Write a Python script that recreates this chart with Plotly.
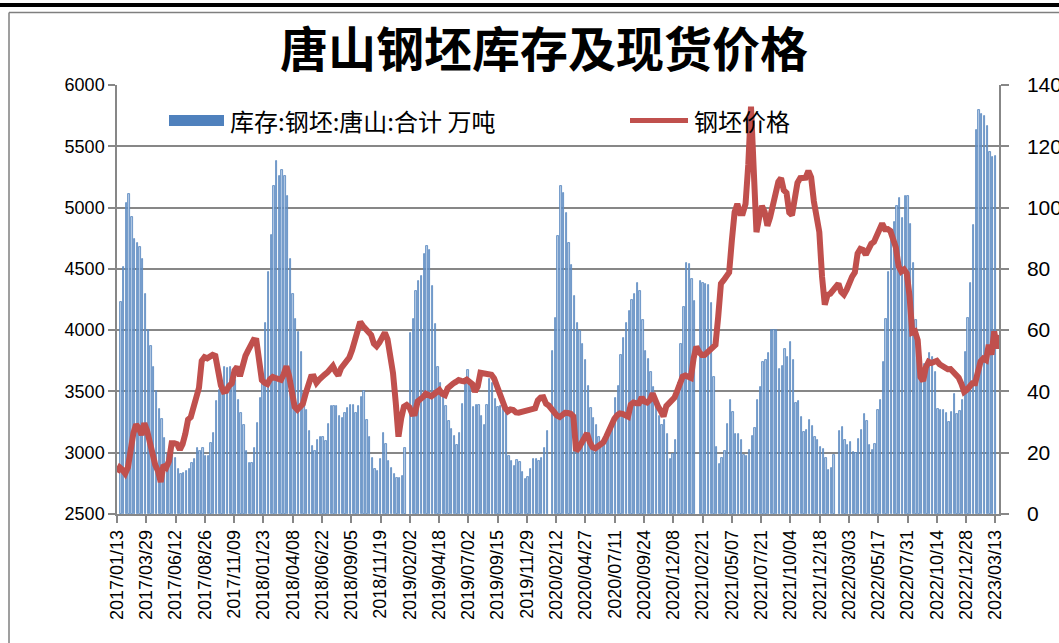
import plotly.graph_objects as go
import pandas as pd

# ---------------- data ----------------
# 唐山钢坯库存 (万吨), weekly (None = no data that week)
inventory = [
    69.2, 80.5, 101.6, 104.5, 96.8, 89.7, 88.3, 87.0, 83.2, 71.7, 60.0, 54.8, 48.1, 40.0, 34.3, 31.0,
    24.9, 19.5, 17.9, 20.5, 18.4, 14.6, 13.0, 13.5, 14.1, 14.6, 16.8, 17.8, 21.6, 20.5, 21.6, 18.9,
    18.9, 23.2, 26.5, 36.8, 40.5, 42.7, 48.1, 47.6, 48.1, 45.9, 43.8, 37.3, 33.0, 29.2, 20.5, 16.8,
    16.8, 21.6, 29.7, 37.8,
    44.0, 62.2, 78.9, 91.0, 107.0, 115.1, 110.3, 112.4, 110.3, 103.8, 83.2, 71.7, 63.5, 59.5, 53.0, 39.5,
    34.1, 27.0, 22.2, 20.5, 24.3, 25.2, 25.2, 23.8, 29.5, 35.4, 35.4, 35.1, 31.9, 31.4, 33.0, 34.6,
    35.7, 35.7, 33.0, 35.1, 38.2, 40.0, 30.8, 25.2, 18.4, 14.6, 14.1, 17.8, 26.5, 22.7, 17.3, 15.1,
    13.0, 11.9, 11.9, 12.4,
    21.6, None, 59.1, 63.7, 72.8, 76.2, 77.8, 84.9, 87.4, 86.0, 74.3, 61.9, 47.9, 42.7, 38.4, 35.1,
    30.3, 27.6, 25.4, 22.4, 26.3, 36.0, 44.0, 47.0, 41.8, 34.9, 35.6, 35.7, 31.9, 29.1, 35.7, 44.0,
    42.7, 37.5, 34.9, 35.4, 34.3, 34.0, 19.0, 17.3, 15.7, 17.5, 17.0, 13.7, 11.4, 12.2, 14.6, 17.8,
    18.1, 17.3, 18.4, 21.6, 27.0,
    None, 53.3, 64.1, 90.8, 107.0, 104.9, 98.2, 88.6, 81.4, 71.1, 62.4, 59.8, 55.5, 50.1, 41.8, 34.6,
    31.4, 28.9, 25.2, 23.3, 24.3, 25.6, 26.3, 27.6, 37.8, 41.8, 51.9, 57.6, 62.2, 66.3, 69.7, 71.9,
    75.4, 72.8, 63.2, 53.3, 50.5, 46.5, 41.4, 37.5, 31.9, 29.2, 30.8, 26.0, 17.8, 19.5, 24.1, 42.7,
    55.5, 67.6, 81.8, 81.6, 76.8,
    69.6, None, 76.0, 75.5, 74.9, 74.7, 68.9, 44.7, 22.0, 16.4, 18.3, 20.5, 29.4, 37.1, 33.3, 26.0,
    26.0, 24.0, 19.3, 18.8, 20.9, 25.3, 28.1, 37.3, 41.4, 49.6, 50.4, 52.6, 60.0, 60.0, 60.0, 47.4,
    48.2, 54.0, 51.3, 56.2, 50.4, 36.2, 36.9, 31.6, 26.7, 27.5, 30.8, 28.6, 25.1, 24.0, 22.0, 21.3,
    18.2, 14.4, 15.1, 19.4, None, 27.0, 28.4, 24.0, 22.4,
    23.5, 20.2, 19.9, 24.5, 27.3, 32.7, 30.5, 22.4, 21.0, 23.0, 34.1, 37.1, 49.6, 63.8, 79.1, 92.2,
    95.2, 100.4, 103.1, 96.5, 103.8, 103.8, 94.7, 82.0, 63.3, 54.3, 45.0, 48.9, 48.0, 52.4, 51.3, 46.4,
    34.4, 33.8, 33.8, 33.0, 30.0, 33.3, 39.3, 32.7, 33.6, 37.1, 52.9, 64.1, 75.5, 94.4, 125.2, 131.8,
    130.4, 129.8, 126.5, 118.0, 116.5, 116.9,
]
inventory_start = "2017-01-23"

# 钢坯价格 (元/吨), weekly
price = [
    2840, 2880, 2860, 2830, 2880, 3025, 3160, 3230, 3200, 3145, 3240, 3180, 3075, 2970, 2900, 2850,
    2760, 2900, 2880, 2930, 3077, 3077, 3070, 3025, 3070, 3155, 3270, 3290, 3380, 3460, 3530, 3750,
    3780, 3770, 3784, 3798, 3790, 3660, 3550, 3500, 3505, 3545, 3566, 3670, 3700, 3625, 3730, 3790,
    3835, 3880, 3920, 3915, 3720, 3593, 3570, 3560, 3600, 3618, 3610, 3600, 3595, 3640, 3705, 3625,
    3500, 3375, 3352, 3370, 3398, 3480, 3563, 3620, 3622, 3570, 3597, 3625, 3638, 3655, 3690, 3707,
    3660, 3630, 3690, 3723, 3736, 3777, 3835, 3915, 4022, 4068, 4034, 4008, 3996, 3960, 3890, 3868,
    3898, 3950, 3980, 3925, 3812, 3650, 3410, 3131, 3280, 3376, 3389, 3370, 3318, 3320, 3418, 3434,
    3455, 3481, 3471, 3460, 3477, 3494, 3512, 3480, 3470, 3525, 3550, 3564, 3578, 3593, 3586, 3582,
    3596, 3584, 3560, 3498, 3540, 3653, 3650, 3647, 3644, 3636, 3606, 3543, 3457, 3409, 3366, 3337,
    3353, 3349, 3329, 3326, 3334, 3335, 3337, 3345, 3353, 3362, 3427, 3450, 3452, 3400, 3385, 3353,
    3320, 3302, 3291, 3306, 3326, 3324, 3318, 3296, 3015, 3040, 3087, 3125, 3158, 3087, 3045, 3036,
    3058, 3078, 3086, 3130, 3182, 3237, 3276, 3305, 3320, 3317, 3307, 3294, 3392, 3410, 3404, 3404,
    3452, 3418, 3409, 3430, 3485, 3420, 3376, 3340, 3296, 3380, 3405, 3428, 3450, 3505, 3565, 3621,
    3630, 3626, 3610, 3770, 3865, 3822, 3797, 3797, 3814, 3836, 3850, 3880, 4110, 4380, 4408, 4436,
    4470, 4733, 4963, 5030, 4953, 4953, 5030, 5350, 5823, 5310, 4800, 4920, 5014, 4964, 4852, 4921,
    5014, 5128, 5211, 5240, 5141, 5120, 4960, 4938, 5060, 5202, 5240, 5246, 5244, 5300, 5247, 5052,
    4908, 4800, 4436, 4208, 4288, 4297, 4325, 4357, 4380, 4312, 4290, 4330, 4400, 4437, 4471, 4625,
    4663, 4654, 4615, 4674, 4704, 4720, 4765, 4819, 4870, 4824, 4825, 4809, 4752, 4675, 4522, 4478,
    4495, 4463, 4280, 3980, 3990, 3920, 3618, 3585, 3698, 3742, 3732, 3743, 3750, 3722, 3710, 3703,
    3681, 3683, 3662, 3630, 3612, 3562, 3497, 3514, 3550, 3566, 3566, 3650, 3744, 3768, 3756, 3880,
    3800, 3990, 3850, 3960,
]
price_start = "2017-01-13"

tick_labels = [
    "2017/01/13", "2017/03/29", "2017/06/12", "2017/08/26", "2017/11/09", "2018/01/23",
    "2018/04/08", "2018/06/22", "2018/09/05", "2018/11/19", "2019/02/02", "2019/04/18",
    "2019/07/02", "2019/09/15", "2019/11/29", "2020/02/12", "2020/04/27", "2020/07/11",
    "2020/09/24", "2020/12/08", "2021/02/21", "2021/05/07", "2021/07/21", "2021/10/04",
    "2021/12/18", "2022/03/03", "2022/05/17", "2022/07/31", "2022/10/14", "2022/12/28",
    "2023/03/13",
]
x_range = ["2017-01-13", "2023-03-22 06:00"]

title_text = "唐山钢坯库存及现货价格"
inv_name = "库存:钢坯:唐山:合计 万吨"
price_name = "钢坯价格"

# ---------------- figure ----------------
inv_dates = pd.date_range(inventory_start, periods=len(inventory), freq="7D")
price_dates = pd.date_range(price_start, periods=len(price), freq="7D")
tick_vals = pd.to_datetime(tick_labels, format="%Y/%m/%d")

BLUE = "#4F81BD"
RED = "#C0504D"
GRID = "#878787"
DAY = 86400000

fig = go.Figure()
fig.add_trace(go.Bar(
    x=inv_dates, y=inventory, name=inv_name, yaxis="y",
    width=3.4 * DAY,
    marker=dict(color="#B7CCE6", line=dict(color=BLUE, width=0.8)),
))
fig.add_trace(go.Scatter(
    x=price_dates, y=price, name=price_name, yaxis="y2", mode="lines",
    line=dict(color=RED, width=6),
))

W, H = 1059, 643
ML, MR, MT, MB = 117, 60, 85, 129
PW, PH = W - ML - MR, H - MT - MB


def px(x):
    return (x - ML) / PW


def py(y):
    return (H - MB - y) / PH


tickfont = dict(family="Liberation Sans, Arial, sans-serif", size=18, color="black")
cjk = "Noto Sans CJK SC, sans-serif"

fig.update_layout(
    width=W, height=H,
    margin=dict(l=ML, r=MR, t=MT, b=MB, autoexpand=False),
    paper_bgcolor="white", plot_bgcolor="white",
    showlegend=False,
    bargap=0,
    title=dict(text="<b>" + title_text + "</b>", x=544 / W, xanchor="center",
               y=1 - 50 / H, yanchor="middle", yref="container",
               font=dict(family=cjk, size=48, color="black")),
    xaxis=dict(
        type="date", range=x_range, tickvals=tick_vals, ticktext=tick_labels,
        tickangle=-90, tickfont=tickfont, ticks="outside", ticklen=7,
        tickcolor=GRID, tickwidth=1.5, showgrid=False, automargin=False,
        showline=True, linecolor=GRID, linewidth=1.5, zeroline=False,
    ),
    yaxis=dict(
        side="right", range=[0, 140], dtick=20, tickfont=dict(tickfont, size=21),
        ticks="outside", ticklen=8, tickcolor=GRID, tickwidth=1.5, automargin=False,
        showgrid=True, gridcolor=GRID, gridwidth=1.5,
        showline=True, linecolor=GRID, linewidth=1.5, zeroline=False,
        ticklabelstandoff=14,
    ),
    yaxis2=dict(
        overlaying="y", side="left", range=[2500, 6000], dtick=500, automargin=False,
        tickfont=tickfont, ticks="outside", ticklen=7, tickcolor=GRID, tickwidth=1.5,
        showgrid=False, showline=True, linecolor=GRID, linewidth=1.5, zeroline=False,
    ),
)

shapes = [
    # outer frame lines of the screenshot
    dict(type="line", xref="paper", yref="paper", x0=px(0), x1=px(W), y0=py(5), y1=py(5),
         line=dict(color="black", width=4)),
    dict(type="line", xref="paper", yref="paper", x0=px(9), x1=px(W), y0=py(12.5), y1=py(12.5),
         line=dict(color="#7F7F7F", width=1.5)),
    dict(type="line", xref="paper", yref="paper", x0=px(9), x1=px(9), y0=py(12.5), y1=py(H),
         line=dict(color="#7F7F7F", width=1.5)),
    # legend symbols
    dict(type="rect", xref="paper", yref="paper", x0=px(169), x1=px(224), y0=py(126), y1=py(115),
         fillcolor=BLUE, line=dict(width=0)),
    dict(type="line", xref="paper", yref="paper", x0=px(630), x1=px(688), y0=py(120.5), y1=py(120.5),
         line=dict(color=RED, width=5)),
]
fig.update_layout(shapes=shapes)

fig.add_annotation(text=inv_name, xref="paper", yref="paper", x=px(228), y=py(120.5),
                   xanchor="left", yanchor="middle", showarrow=False,
                   font=dict(family=cjk, size=24, color="black"))
fig.add_annotation(text=price_name, xref="paper", yref="paper", x=px(692), y=py(120.5),
                   xanchor="left", yanchor="middle", showarrow=False,
                   font=dict(family=cjk, size=24, color="black"))

fig.write_html(
    "out.html",
    config={"displayModeBar": False},
    post_script="document.body.style.margin='0px';document.body.style.overflow='hidden';",
)
